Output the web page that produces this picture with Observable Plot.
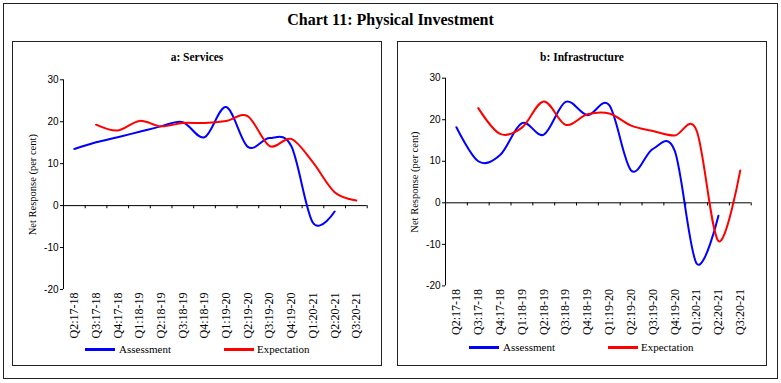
<!DOCTYPE html>
<html><head><meta charset="utf-8">
<script src="https://cdn.jsdelivr.net/npm/d3@7"></script>
<script src="https://cdn.jsdelivr.net/npm/@observablehq/plot@0.6"></script>
<style>
body{margin:0;background:#fff;}
#wrap{position:relative;width:781px;height:383px;font-family:"Liberation Serif",serif;color:#000;}
#outer{position:absolute;left:3px;top:3px;width:775px;height:376px;border:1px solid #222;box-sizing:border-box;}
#title{position:absolute;left:0;width:781px;top:11px;line-height:18px;text-align:center;font-weight:bold;font-size:16px;}
.panel{position:absolute;top:41px;width:370px;height:325px;border:1px solid #222;box-sizing:border-box;}
.sub{position:absolute;left:0;width:100%;text-align:center;font-weight:bold;font-size:11.5px;line-height:14px;}
.chart{position:absolute;left:0;top:0;}
.lg-line{position:absolute;height:2.5px;width:30px;}
.lg-text{position:absolute;font-size:11px;line-height:14px;white-space:nowrap;}
</style>
</head><body>
<div id="wrap">
  <div id="outer"></div>
  <div id="title">Chart 11: Physical Investment</div>
  <div class="panel" id="p1" style="left:12px;">
    <div class="chart"></div>
    <div class="sub" style="top:8px;">a: Services</div>
    <div class="lg-line" style="left:72px;top:306px;background:#0000ff;"></div>
    <div class="lg-text" style="left:106px;top:300px;">Assessment</div>
    <div class="lg-line" style="left:211px;top:306px;background:#ff0000;"></div>
    <div class="lg-text" style="left:244px;top:300px;">Expectation</div>
  </div>
  <div class="panel" id="p2" style="left:397px;">
    <div class="chart"></div>
    <div class="sub" style="top:8px;">b: Infrastructure</div>
    <div class="lg-line" style="left:71px;top:304px;background:#0000ff;"></div>
    <div class="lg-text" style="left:105px;top:298px;">Assessment</div>
    <div class="lg-line" style="left:210px;top:304px;background:#ff0000;"></div>
    <div class="lg-text" style="left:243px;top:298px;">Expectation</div>
  </div>
</div>
<script>
const quarters = ["Q2:17-18","Q3:17-18","Q4:17-18","Q1:18-19","Q2:18-19","Q3:18-19","Q4:18-19","Q1:19-20","Q2:19-20","Q3:19-20","Q4:19-20","Q1:20-21","Q2:20-21","Q3:20-21"];
const yTicks = [-20, -10, 0, 10, 20, 30];
const yLabel = "Net Response (per cent)";
const seriesNames = ["Assessment", "Expectation"];

const servicesAssessment  = [13.5, 15.1, 16.3, 17.6, 18.9, 19.9, 16.3, 23.5, 14.0, 16.1, 14.2, -4.1, -1.4, null];
const servicesExpectation = [null, 19.3, 17.9, 20.2, 18.9, 19.7, 19.7, 20.2, 21.3, 14.2, 15.9, 10.3, 3.2, 1.2];
const infraAssessment     = [18.2, 10.0, 11.5, 19.2, 16.4, 24.3, 21.1, 23.5, 7.8, 13.0, 12.5, -14.6, -3.1, null];
const infraExpectation    = [null, 22.8, 16.6, 18.1, 24.4, 18.8, 21.3, 21.5, 18.6, 17.3, 16.2, 17.4, -9.2, 7.8];

function rows(arr) {
  return arr.map((v, i) => ({i, v})).filter(d => d.v != null);
}

function panel(assess, expect, m) {
  return Plot.plot({
    width: 368, height: 323,
    marginLeft: m.l, marginRight: m.r, marginTop: m.t, marginBottom: m.b,
    x: {domain: [-0.5, quarters.length - 0.5]},
    y: {domain: [-20, 30]},
    style: {fontFamily: "Liberation Serif", fontSize: "10px", background: "transparent", overflow: "visible", color: "#000"},
    marks: [
      Plot.ruleX([-0.5], {y1: -20, y2: 30, stroke: "#000", strokeWidth: 1}),
      Plot.ruleY([0], {stroke: "#000", strokeWidth: 1}),
      Plot.ruleX(d3.range(quarters.length).map(i => i + 0.5), {y1: 0, y2: -0.75, stroke: "#000"}),
      Plot.axisY({ticks: yTicks, tickFormat: d => String(d), tickSize: 3, tickPadding: 2, fontFamily: "Liberation Sans", fontSize: 10, label: null}),
      Plot.axisX({ticks: d3.range(quarters.length), tickFormat: i => quarters[i], tickRotate: -90, tickSize: 0, tickPadding: 3, label: null, fontSize: 12}),
      Plot.text([yLabel], {text: d => d, frameAnchor: "left", textAnchor: "middle", dx: m.lab, rotate: -90, fontSize: 10.5}),
      Plot.line(rows(assess), {x: "i", y: "v", stroke: "#0000ff", strokeWidth: 2, curve: "cardinal"}),
      Plot.line(rows(expect), {x: "i", y: "v", stroke: "#ff0000", strokeWidth: 2, curve: "cardinal"})
    ]
  });
}

document.querySelector("#p1 .chart").append(panel(servicesAssessment, servicesExpectation, {l: 50, r: 14.3, t: 37.3, b: 76, lab: -31}));
document.querySelector("#p2 .chart").append(panel(infraAssessment, infraExpectation, {l: 47, r: 15.3, t: 35.7, b: 79.6, lab: -31}));
</script>
</body></html>
